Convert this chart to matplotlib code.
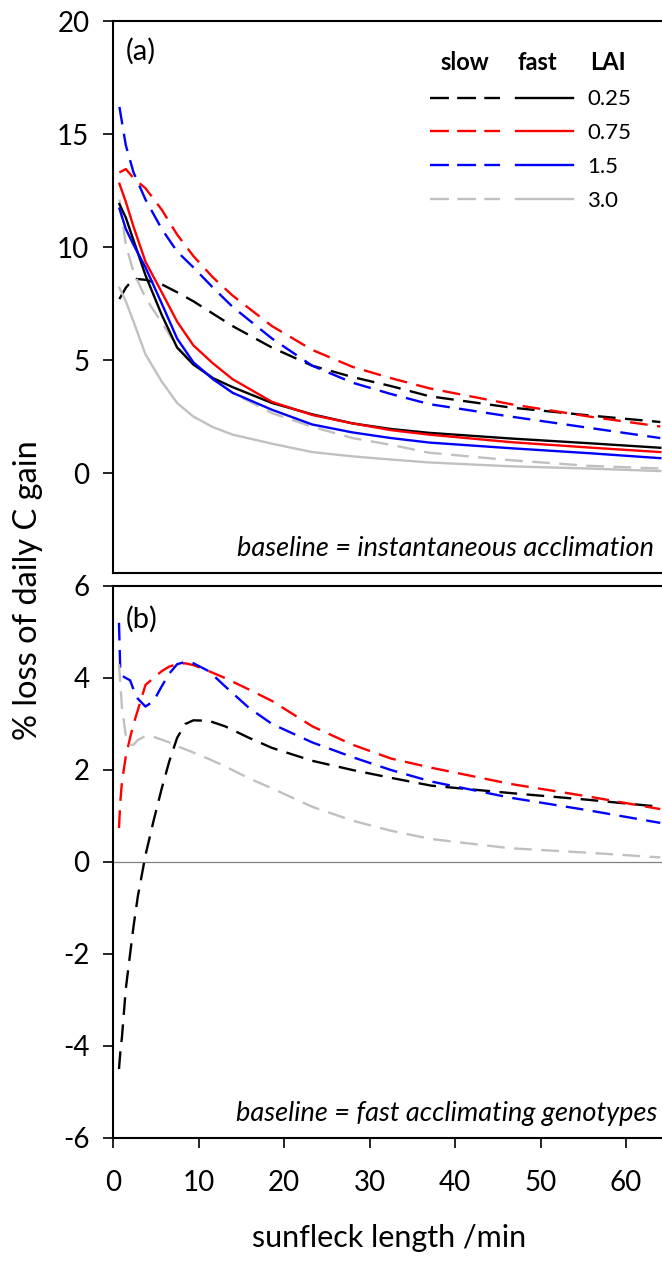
import matplotlib
matplotlib.use("Agg")
import matplotlib.pyplot as plt
from matplotlib.lines import Line2D

plt.rcParams['font.family'] = ['Lato', 'DejaVu Sans']
plt.rcParams['axes.unicode_minus'] = False

# ---------------- data ----------------
lai_labels = ["0.25", "0.75", "1.5", "3.0"]
colors = ["#000000", "#FF0000", "#0000FF", "#C0C0C0"]

# panel (a): baseline = instantaneous acclimation
xa = [0.75, 1.5, 2.4, 3.8, 5.7, 7.5, 9.4, 11.7, 14, 18.6, 23.3, 28, 32.5, 37, 46.5, 55.7, 64]
a_slow_025 = [7.7, 8.2, 8.6, 8.55, 8.35, 8.0, 7.6, 7.05, 6.5, 5.55, 4.75, 4.25, 3.85, 3.4, 2.9, 2.55, 2.26]
a_slow_075 = [13.3, 13.45, 13.05, 12.6, 11.65, 10.55, 9.6, 8.65, 7.85, 6.5, 5.45, 4.7, 4.2, 3.75, 3.05, 2.5, 2.06]
a_slow_15 = [16.2, 14.5, 13.3, 12.1, 10.8, 9.8, 9.1, 8.2, 7.35, 5.95, 4.75, 4.0, 3.5, 3.05, 2.5, 2.0, 1.55]
a_slow_30 = [12.1, 10.1, 8.9, 7.75, 6.65, 5.6, 4.85, 4.2, 3.55, 2.65, 2.05, 1.55, 1.25, 0.9, 0.57, 0.32, 0.2]
a_fast_025 = [11.9, 11.3, 10.3, 8.75, 7.0, 5.55, 4.8, 4.2, 3.8, 3.1, 2.6, 2.2, 1.95, 1.78, 1.53, 1.32, 1.12]
a_fast_075 = [12.8, 12.0, 10.9, 9.35, 8.0, 6.7, 5.65, 4.85, 4.15, 3.15, 2.57, 2.2, 1.9, 1.7, 1.37, 1.13, 0.93]
a_fast_15 = [11.7, 10.8, 10.1, 9.1, 7.5, 5.95, 4.9, 4.15, 3.55, 2.8, 2.15, 1.8, 1.55, 1.35, 1.1, 0.88, 0.66]
a_fast_30 = [8.2, 7.6, 6.7, 5.25, 4.05, 3.1, 2.5, 2.03, 1.7, 1.3, 0.93, 0.74, 0.6, 0.47, 0.3, 0.2, 0.09]

# panel (b): baseline = fast acclimating genotypes
xb = [0.7, 0.85, 1.05, 1.5, 2, 2.4, 2.9, 3.8, 4.75, 5.7, 6.6, 7.5, 8.45, 9.4, 11.2, 13.1,
      15.9, 18.6, 23.3, 28, 32.5, 37.2, 46.4, 55.7, 64]
b_slow_025 = [-4.5, -4.15, -3.8, -2.75, -2.0, -1.4, -0.75, 0.15, 0.9, 1.6, 2.2, 2.7, 3.0, 3.08,
              3.07, 2.95, 2.7, 2.48, 2.2, 2.0, 1.83, 1.66, 1.5, 1.35, 1.2]
b_slow_075 = [0.74, 1.3, 1.75, 2.3, 2.7, 3.0, 3.3, 3.85, 4.0, 4.15, 4.25, 4.3, 4.32, 4.28,
              4.15, 4.0, 3.75, 3.5, 2.95, 2.55, 2.25, 2.05, 1.7, 1.42, 1.15]
b_slow_15 = [5.2, 4.15, 4.05, 4.0, 3.95, 3.75, 3.55, 3.38, 3.5, 3.82, 4.1, 4.3, 4.35, 4.32,
             4.15, 3.82, 3.35, 3.0, 2.6, 2.28, 2.0, 1.75, 1.4, 1.12, 0.85]
b_slow_30 = [4.3, 3.9, 3.35, 2.75, 2.55, 2.55, 2.65, 2.74, 2.72, 2.66, 2.6, 2.52, 2.45, 2.38,
             2.24, 2.08, 1.82, 1.6, 1.2, 0.9, 0.68, 0.5, 0.3, 0.2, 0.1]

a_slow = [a_slow_025, a_slow_075, a_slow_15, a_slow_30]
a_fast = [a_fast_025, a_fast_075, a_fast_15, a_fast_30]
b_slow = [b_slow_025, b_slow_075, b_slow_15, b_slow_30]

a_yticks = [0, 5, 10, 15, 20]
b_yticks = [-6, -4, -2, 0, 2, 4, 6]
b_xticks = [0, 10, 20, 30, 40, 50, 60]

# ---------------- figure ----------------
W, H = 662, 1264
fig = plt.figure(figsize=(W / 100, H / 100), dpi=100)

def frac(l, t, r, b):
    return [l / W, 1 - b / H, (r - l) / W, (b - t) / H]

axa = fig.add_axes(frac(113, 21, 662, 573))
axb = fig.add_axes(frac(113, 586, 662, 1138))

LW = 1.7
DASH = (7.5, 4)

for ax in (axa, axb):
    ax.set_xlim(0, 64.2)
    ax.spines['right'].set_visible(False)
    for s in ('left', 'top', 'bottom'):
        ax.spines[s].set_linewidth(1.5)
    ax.tick_params(axis='both', direction='out', width=1.2, length=7, labelsize=20,
                   colors='black')

# panel (a)
for ys, c in zip(a_slow, colors):
    axa.plot(xa, ys, color=c, lw=LW, dashes=DASH)
for ys, c in zip(a_fast, colors):
    axa.plot(xa, ys, color=c, lw=LW)
axa.set_ylim(-4.42, 20)
axa.set_yticks(a_yticks)
axa.set_xticks([])
axa.tick_params(axis='y', pad=10)
axa.text(0.024, 0.945, "(a)", transform=axa.transAxes, fontsize=21, ha='left', va='center')
axa.text(0.985, 0.045, "baseline = instantaneous acclimation", transform=axa.transAxes,
         fontsize=19.5, style='italic', ha='right', va='center')

# legend of panel (a)
h_slow = [Line2D([], [], color=c, lw=LW, dashes=(8, 3.5)) for c in colors]
h_fast = [Line2D([], [], color=c, lw=LW) for c in colors]
leg1 = axa.legend(h_slow, [""] * 4, loc='upper left', bbox_to_anchor=(0.577, 0.876),
                  frameon=False, fontsize=16, handlelength=3.15, handletextpad=0,
                  labelspacing=0.62, borderpad=0, borderaxespad=0)
axa.add_artist(leg1)
axa.legend(h_fast, lai_labels, loc='upper left', bbox_to_anchor=(0.734, 0.876),
           frameon=False, fontsize=16, handlelength=2.57, handletextpad=0.63,
           labelspacing=0.62, borderpad=0, borderaxespad=0)
for txt, xp in (("slow", 465), ("fast", 537), ("LAI", 608)):
    axa.text((xp - 113) / 549, 1 - (63 - 21) / 552, txt, transform=axa.transAxes,
             fontsize=17, fontweight='bold', ha='center', va='center')

# panel (b)
axb.axhline(0, color='#808080', lw=0.9)
for ys, c in zip(b_slow, colors):
    axb.plot(xb, ys, color=c, lw=LW, dashes=DASH)
axb.set_ylim(-6, 6)
axb.set_yticks(b_yticks)
axb.set_xticks(b_xticks)
axb.tick_params(axis='y', pad=10)
axb.tick_params(axis='x', pad=16)
axb.text(0.024, 0.94, "(b)", transform=axb.transAxes, fontsize=21, ha='left', va='center')
axb.text(0.992, 0.045, "baseline = fast acclimating genotypes", transform=axb.transAxes,
         fontsize=19.5, style='italic', ha='right', va='center')

fig.text(389 / W, 1 - 1238 / H, "sunfleck length /min", fontsize=22, ha='center', va='center')
fig.text(28 / W, 1 - 590 / H, "% loss of daily C gain", fontsize=23.5, rotation=90,
         ha='center', va='center')

fig.savefig("out.png", dpi=100)
